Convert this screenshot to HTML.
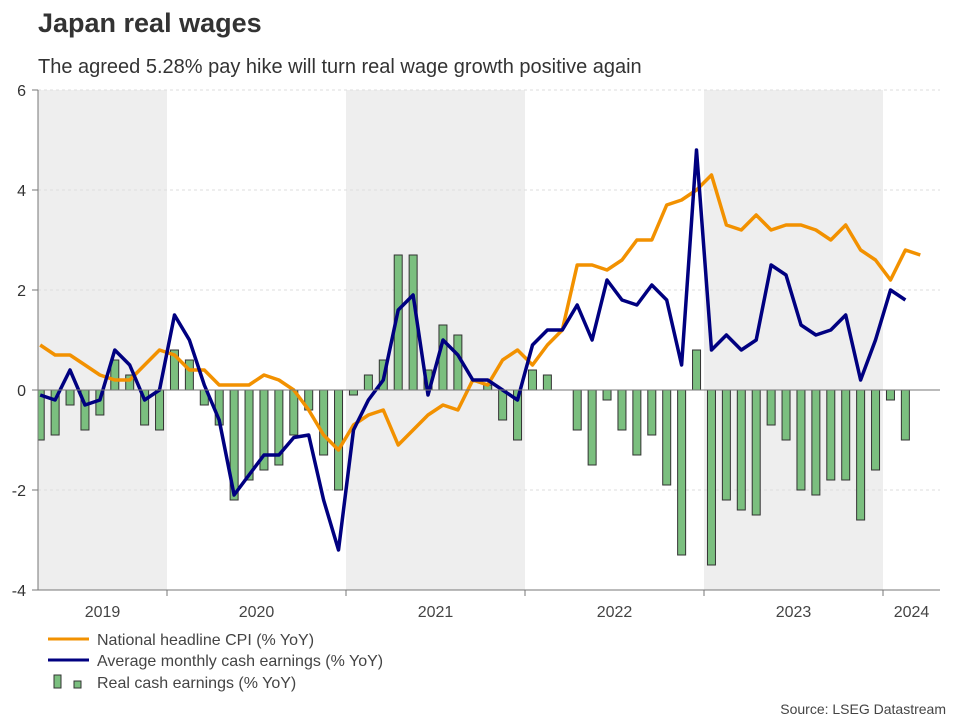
<!DOCTYPE html>
<html><head><meta charset="utf-8"><style>
body{margin:0;background:#fff;font-family:"Liberation Sans",Arial,sans-serif;}
svg text{font-family:"Liberation Sans",Arial,sans-serif;}
</style></head><body>
<svg id="chart" width="960" height="720" viewBox="0 0 960 720">
<text x="38" y="32" font-size="27" font-weight="bold" fill="#333">Japan real wages</text>
<text x="38" y="73" font-size="20" fill="#333">The agreed 5.28% pay hike will turn real wage growth positive again</text>
<g id="bands"></g><g id="grid"></g><g id="bars"></g><g id="lines"></g><g id="axes"></g>
<g>
<line x1="48" y1="639" x2="89" y2="639" stroke="#F29100" stroke-width="3"/>
<text x="97" y="645" font-size="16" fill="#444">National headline CPI (% YoY)</text>
<line x1="48" y1="660" x2="89" y2="660" stroke="#000080" stroke-width="3"/>
<text x="97" y="666" font-size="16" fill="#444">Average monthly cash earnings (% YoY)</text>
<rect x="54" y="675" width="7" height="13" fill="#7BBF7F" stroke="#333"/>
<rect x="74" y="681" width="7" height="7" fill="#7BBF7F" stroke="#333"/>
<text x="97" y="688" font-size="16" fill="#444">Real cash earnings (% YoY)</text>
</g>
<text x="946" y="714" font-size="14" fill="#444" text-anchor="end">Source: LSEG Datastream</text>
</svg>
<script>
// months from Apr 2019 to Mar 2024
const years = [2019,2020,2021,2022,2023,2024];
const yTicks = [-4,-2,0,2,4,6];
const cpi = [0.9,0.7,0.7,0.5,0.3,0.2,0.2,0.5,0.8,
0.7,0.4,0.4,0.1,0.1,0.1,0.3,0.2,0.0,-0.4,-0.9,-1.2,
-0.7,-0.5,-0.4,-1.1,-0.8,-0.5,-0.3,-0.4,0.2,0.1,0.6,0.8,
0.5,0.9,1.2,2.5,2.5,2.4,2.6,3.0,3.0,3.7,3.8,4.0,
4.3,3.3,3.2,3.5,3.2,3.3,3.3,3.2,3.0,3.3,2.8,2.6,
2.2,2.8,2.7];
const earnings = [-0.1,-0.2,0.4,-0.3,-0.2,0.8,0.5,-0.2,0.0,
1.5,1.0,0.1,-0.6,-2.1,-1.7,-1.3,-1.3,-0.95,-0.9,-2.2,-3.2,
-0.8,-0.2,0.2,1.6,1.9,-0.1,1.0,0.7,0.2,0.2,0.0,-0.2,
0.9,1.2,1.2,1.7,1.0,2.2,1.8,1.7,2.1,1.8,0.5,4.8,
0.8,1.1,0.8,1.0,2.5,2.3,1.3,1.1,1.2,1.5,0.2,1.0,
2.0,1.8,null];
const realEarnings = [-1.0,-0.9,-0.3,-0.8,-0.5,0.6,0.3,-0.7,-0.8,
0.8,0.6,-0.3,-0.7,-2.2,-1.8,-1.6,-1.5,-0.9,-0.4,-1.3,-2.0,
-0.1,0.3,0.6,2.7,2.7,0.4,1.3,1.1,0.0,0.1,-0.6,-1.0,
0.4,0.3,0.0,-0.8,-1.5,-0.2,-0.8,-1.3,-0.9,-1.9,-3.3,0.8,
-3.5,-2.2,-2.4,-2.5,-0.7,-1.0,-2.0,-2.1,-1.8,-1.8,-2.6,-1.6,
-0.2,-1.0,null];

const NS="http://www.w3.org/2000/svg";
const L=38,R=940,T=90,B=590;
const yearW=179, x2020=167;
function xMonth(i){ const m=i+3; return x2020-yearW + (m+0.5)*yearW/12; }
function xYear(y){ return x2020 + (y-2020)*yearW; }
function yVal(v){ return 390 - v*50; }
function mk(tag,attrs,parent){const e=document.createElementNS(NS,tag);for(const k in attrs)e.setAttribute(k,attrs[k]);parent.appendChild(e);return e;}
const bands=document.getElementById('bands'),grid=document.getElementById('grid'),bars=document.getElementById('bars'),lines=document.getElementById('lines'),axes=document.getElementById('axes');
years.forEach((y,i)=>{
  const x0=Math.max(L,xYear(y)), x1=Math.min(R,xYear(y+1));
  if(i%2===0){const r=mk('rect',{x:x0,y:T,width:x1-x0,height:B-T,fill:'#EEEEEE'},bands);
    
    }
  const t=mk('text',{x:(x0+x1)/2,y:617,'font-size':16,fill:'#444','text-anchor':'middle'},axes);
  t.textContent=y;
  
  
  if(i>0){const tk=mk('line',{x1:xYear(y),y1:B,x2:xYear(y),y2:B+6,stroke:'#777'},axes);
    
    }
});
yTicks.forEach(v=>{
  const y=yVal(v);
  if(v!==0&&v!==-4){const g=mk('line',{x1:L,y1:y,x2:R,y2:y,stroke:'#ddd','stroke-dasharray':'3,3'},grid);
    
    }
  const tk=mk('line',{x1:L-6,y1:y,x2:L,y2:y,stroke:'#777'},axes);
  
  
  const t=mk('text',{x:26,y:y+6,'font-size':16,fill:'#333','text-anchor':'end'},axes);
  t.textContent=v;
  
  
});
const clip=mk('clipPath',{id:'pc'},document.getElementById('chart'));
mk('rect',{x:L,y:T-10,width:R-L,height:B-T+20},clip);
bars.setAttribute('clip-path','url(#pc)');
realEarnings.forEach((v,i)=>{
  if(v===null||v===0)return;
  const x=xMonth(i),y0=yVal(0),y1=yVal(v);
  const r=mk('rect',{x:x-4,y:Math.min(y0,y1),width:8,height:Math.abs(y1-y0),fill:'#7BBF7F',stroke:'#333','stroke-width':1},bars);
  
  
});
const zero=mk('line',{x1:L,y1:yVal(0),x2:R,y2:yVal(0),stroke:'#777','stroke-width':1},axes);


const ax=mk('line',{x1:L,y1:T,x2:L,y2:B,stroke:'#777'},axes);


const bx=mk('line',{x1:L,y1:B,x2:R,y2:B,stroke:'#777'},axes);


function path(arr){let d='';arr.forEach((v,i)=>{if(v===null)return;d+=(d?'L':'M')+xMonth(i).toFixed(1)+','+yVal(v).toFixed(1);});return d;}
lines.setAttribute('clip-path','url(#pc)');
const pc=mk('path',{d:path(cpi),fill:'none',stroke:'#F29100','stroke-width':3.5,'stroke-linejoin':'round'},lines);


const pe=mk('path',{d:path(earnings),fill:'none',stroke:'#000080','stroke-width':3.5,'stroke-linejoin':'round'},lines);


</script>
</body></html>
